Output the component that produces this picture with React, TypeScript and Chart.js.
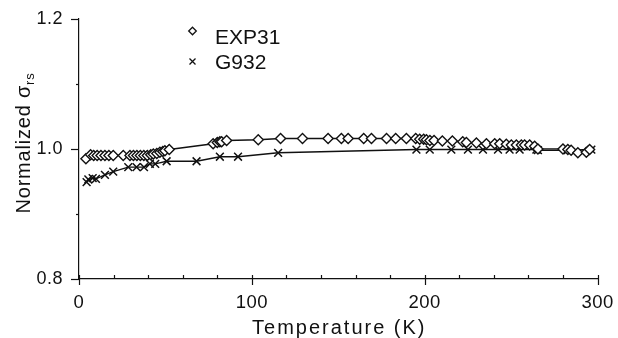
import React, { useEffect, useRef } from "react";
import { Chart, registerables } from "chart.js";

Chart.register(...registerables);

const expT = [4.0, 6.7, 8.5, 10.5, 12.7, 15.0, 17.3, 19.8, 25.6, 29.5, 31.5, 33.5, 35.5, 37.5, 39.5, 41.5, 43.0, 45.0, 46.8, 48.5, 49.7, 52.2, 77.6, 80.0, 81.5, 82.5, 85.4, 103.7, 116.6, 129.3, 144.1, 151.8, 155.7, 164.7, 169.2, 177.9, 183.2, 189.4, 194.8, 197.1, 199.4, 201.0, 203.0, 205.4, 210.2, 216.0, 222.0, 224.1, 229.9, 235.7, 240.5, 243.4, 247.2, 250.1, 253.0, 255.9, 257.8, 260.7, 263.6, 265.5, 280.0, 282.8, 284.7, 288.6, 293.5, 295.4];
const expV = [0.985, 0.991, 0.990, 0.990, 0.990, 0.990, 0.990, 0.990, 0.990, 0.990, 0.990, 0.990, 0.990, 0.990, 0.990, 0.991, 0.992, 0.993, 0.995, 0.996, 0.997, 0.999, 1.008, 1.010, 1.011, 1.011, 1.013, 1.014, 1.016, 1.016, 1.016, 1.016, 1.016, 1.016, 1.016, 1.016, 1.016, 1.016, 1.016, 1.015, 1.015, 1.014, 1.013, 1.013, 1.012, 1.012, 1.011, 1.010, 1.009, 1.008, 1.008, 1.008, 1.007, 1.006, 1.006, 1.006, 1.006, 1.006, 1.004, 1.000, 1.000, 0.999, 0.998, 0.994, 0.995, 0.999];

const gT = [4.4, 5.4, 7.9, 9.8, 15.0, 19.8, 28.5, 33.3, 37.6, 41.0, 44.1, 50.7, 68.0, 81.5, 92.0, 115.2, 195.2, 202.9, 215.4, 225.0, 233.7, 242.4, 249.1, 254.9, 264.6, 265.5, 282.8, 296.4];
const gV = [0.949, 0.953, 0.955, 0.954, 0.960, 0.965, 0.972, 0.972, 0.972, 0.977, 0.977, 0.981, 0.981, 0.988, 0.988, 0.994, 0.999, 0.999, 0.999, 0.999, 0.999, 0.999, 0.999, 0.999, 0.999, 0.998, 0.998, 0.999];

const xMajor = [0, 100, 200, 300];
const yMajor = [0.8, 1.0, 1.2];
const seriesNames = ["EXP31", "G932"];
const xTitle = "Temperature (K)";
const yTitleMain = "Normalized σ";
const yTitleSub = "rs";

const FONT = "'Liberation Sans', Arial, Helvetica, sans-serif";
const INK = "#111";

const toPts = (xs: number[], ys: number[]) => xs.map((x, i) => ({ x, y: ys[i] }));

const decorPlugin = {
  id: "decor",
  beforeDraw(chart: any) {
    const ctx = chart.ctx;
    ctx.fillStyle = "#fff";
    ctx.fillRect(0, 0, chart.width, chart.height);
    ctx.letterSpacing = "0.5px";
  },
  afterDraw(chart: any) {
    const ctx = chart.ctx;
    const xs = chart.scales.x;
    const ys = chart.scales.y;
    const ca = chart.chartArea;
    ctx.save();
    ctx.strokeStyle = INK;
    ctx.lineWidth = 1.2;
    for (let v = 0.8; v <= 1.2001; v += 0.1) {
      const y = Math.round(ys.getPixelForValue(v)) + 0.5;
      const major = yMajor.some((m) => Math.abs(m - v) < 1e-6);
      ctx.beginPath();
      ctx.moveTo(ca.left - (major ? 8 : 3), y);
      ctx.lineTo(ca.left, y);
      ctx.stroke();
    }
    for (let t = 0; t <= 300; t += 20) {
      const x = Math.round(xs.getPixelForValue(t)) + 0.5;
      const major = xMajor.includes(t);
      ctx.beginPath();
      ctx.moveTo(x, ca.bottom - 4);
      ctx.lineTo(x, ca.bottom + (major ? 6 : 0));
      ctx.stroke();
    }
    ctx.fillStyle = INK;
    ctx.letterSpacing = "2px";
    ctx.font = `20px ${FONT}`;
    ctx.textAlign = "center";
    ctx.textBaseline = "alphabetic";
    ctx.fillText(xTitle, (ca.left + ca.right) / 2 + 1, 334);

    ctx.save();
    ctx.letterSpacing = "0.8px";
    ctx.translate(23, 143);
    ctx.rotate(-Math.PI / 2);
    ctx.textAlign = "left";
    ctx.textBaseline = "alphabetic";
    ctx.font = `20px ${FONT}`;
    const w1 = ctx.measureText(yTitleMain).width;
    ctx.font = `13px ${FONT}`;
    const w2 = ctx.measureText(yTitleSub).width;
    const start = -(w1 + w2) / 2;
    ctx.font = `20px ${FONT}`;
    ctx.fillText(yTitleMain, start, 7);
    ctx.font = `13px ${FONT}`;
    ctx.fillText(yTitleSub, start + w1, 11);
    ctx.restore();

    const lx = 192.5;
    const ly1 = 31;
    const ly2 = 61.5;
    ctx.lineWidth = 1.3;
    ctx.beginPath();
    ctx.moveTo(lx, ly1 - 3.8);
    ctx.lineTo(lx + 3.8, ly1);
    ctx.lineTo(lx, ly1 + 3.8);
    ctx.lineTo(lx - 3.8, ly1);
    ctx.closePath();
    ctx.stroke();
    ctx.beginPath();
    ctx.moveTo(lx - 3, ly2 - 3);
    ctx.lineTo(lx + 3, ly2 + 3);
    ctx.moveTo(lx + 3, ly2 - 3);
    ctx.lineTo(lx - 3, ly2 + 3);
    ctx.stroke();
    ctx.font = `21px ${FONT}`;
    ctx.letterSpacing = "0px";
    ctx.textAlign = "left";
    ctx.textBaseline = "alphabetic";
    ctx.fillText(seriesNames[0], 215, 43.5);
    ctx.fillText(seriesNames[1], 215, 68.5);
    ctx.restore();
  },
};

export default function App() {
  const ref = useRef<HTMLCanvasElement | null>(null);
  useEffect(() => {
    if (!ref.current) return;
    const chart = new Chart(ref.current, {
      type: "scatter",
      data: {
        datasets: [
          {
            label: seriesNames[0],
            data: toPts(expT, expV),
            showLine: true,
            borderColor: INK,
            borderWidth: 1.4,
            pointStyle: "rectRot",
            pointRadius: 5,
            pointBackgroundColor: "#fff",
            pointBorderColor: INK,
            pointBorderWidth: 1.4,
          },
          {
            label: seriesNames[1],
            data: toPts(gT, gV),
            showLine: true,
            borderColor: INK,
            borderWidth: 1.4,
            pointStyle: "crossRot",
            pointRadius: 5.5,
            pointBorderColor: INK,
            pointBorderWidth: 1.5,
          },
        ],
      },
      options: {
        responsive: false,
        animation: false,
        events: [],
        layout: { padding: { top: 18.5, right: 20, left: 0, bottom: 0 } },
        plugins: { legend: { display: false }, tooltip: { enabled: false } },
        scales: {
          x: {
            type: "linear",
            min: 0,
            max: 300,
            afterFit: (s: any) => { s.height = 59; },
            grid: { display: false },
            border: { display: true, color: INK, width: 1.2 },
            ticks: {
              stepSize: 20,
              padding: 5,
              color: INK,
              font: { family: FONT, size: 18.5 },
              maxRotation: 0,
              autoSkip: false,
              callback: (v: any) => (xMajor.includes(Number(v)) ? String(v) : ""),
            },
          },
          y: {
            type: "linear",
            min: 0.8,
            max: 1.2,
            afterFit: (s: any) => { s.width = 79; },
            grid: { display: false },
            border: { display: true, color: INK, width: 1.2 },
            ticks: {
              stepSize: 0.1,
              padding: 8,
              color: INK,
              font: { family: FONT, size: 18 },
              autoSkip: false,
              callback: (v: any) => {
                const n = Number(v);
                return yMajor.some((m) => Math.abs(m - n) < 1e-6) ? n.toFixed(1) : "";
              },
            },
          },
        },
      },
      plugins: [decorPlugin],
    } as any);
    return () => chart.destroy();
  }, []);
  return (
    <div style={{ position: "fixed", left: 0, top: 0, width: 618, height: 338, background: "#fff" }}>
      <canvas ref={ref} width={618} height={338} />
    </div>
  );
}
